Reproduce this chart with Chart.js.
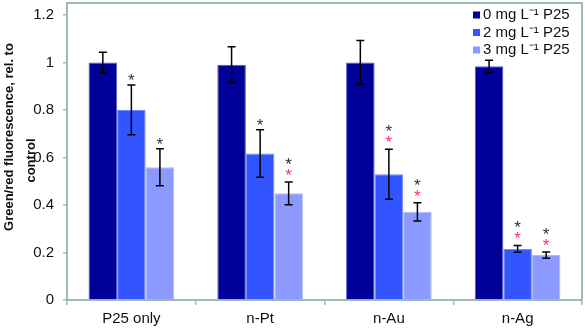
<!DOCTYPE html>
<html>
<head>
<meta charset="utf-8">
<script src="https://cdn.jsdelivr.net/npm/chart.js@4.4.1/dist/chart.umd.min.js"></script>
<style>
  html, body { margin: 0; padding: 0; background: #fff; }
  canvas { display: block; }
</style>
</head>
<body>
<canvas id="chart" width="585" height="328"></canvas>
<script>
// --- DATA ---
const categories = ['P25 only', 'n-Pt', 'n-Au', 'n-Ag'];
const seriesLabels = ['0 mg L\u207B\u00B9 P25', '2 mg L\u207B\u00B9 P25', '3 mg L\u207B\u00B9 P25'];
const dose0 = [1.0, 0.99, 1.0, 0.984];
const dose2 = [0.80, 0.617, 0.529, 0.215];
const dose3 = [0.559, 0.449, 0.371, 0.189];
const err0 = [0.043, 0.076, 0.092, 0.025];
const err2 = [0.105, 0.10, 0.105, 0.014];
const err3 = [0.078, 0.048, 0.038, 0.013];
// significance marks: 0 = none, 1 = black star, 2 = black + red star
const sig0 = [0, 0, 0, 0];
const sig2 = [1, 1, 2, 2];
const sig3 = [1, 2, 2, 2];
const yTicks = [0, 0.2, 0.4, 0.6, 0.8, 1, 1.2];

const axisColor = '#9fb8b8';
const textColor = '#111';

Chart.defaults.font.family = '"Liberation Sans", Arial, sans-serif';

// error bars, stars, frame and legend
const extras = {
    id: 'extras',
    afterDatasetsDraw(chart) {
        const { ctx, scales: { y } } = chart;
        ctx.save();
        chart.data.datasets.forEach((ds, i) => {
            chart.getDatasetMeta(i).data.forEach((bar, j) => {
                const v = ds.data[j];
                const e = ds.errors[j];
                const top = y.getPixelForValue(v + e);
                const bot = y.getPixelForValue(v - e);
                ctx.strokeStyle = '#000';
                ctx.lineWidth = 1.5;
                ctx.beginPath();
                ctx.moveTo(bar.x, top); ctx.lineTo(bar.x, bot);
                ctx.moveTo(bar.x - 4, top); ctx.lineTo(bar.x + 4, top);
                ctx.moveTo(bar.x - 4, bot); ctx.lineTo(bar.x + 4, bot);
                ctx.stroke();

                // stars above the error bar (glyph centre ~0.58em above baseline)
                const s = ds.sig[j];
                if (!s) return;
                ctx.font = '17px "Liberation Sans", Arial, sans-serif';
                ctx.textAlign = 'center';
                ctx.textBaseline = 'alphabetic';
                const lift = 17 * 0.58;
                if (s === 2) {
                    ctx.fillStyle = '#ff3355';
                    ctx.fillText('*', bar.x, top - 11 + lift);
                    ctx.fillStyle = '#333';
                    ctx.fillText('*', bar.x, top - 22 + lift);
                } else {
                    ctx.fillStyle = '#333';
                    ctx.fillText('*', bar.x, top - 9 + lift);
                }
            });
        });
        ctx.restore();
    },
    afterDraw(chart) {
        const { ctx, chartArea: a } = chart;
        ctx.save();
        // top and right frame lines
        ctx.strokeStyle = axisColor;
        ctx.lineWidth = 2;
        ctx.beginPath();
        ctx.moveTo(a.left, a.top); ctx.lineTo(a.right, a.top); ctx.lineTo(a.right, a.bottom);
        ctx.stroke();

        // legend in the top right corner
        ctx.font = '15px "Liberation Sans", Arial, sans-serif';
        ctx.textBaseline = 'middle';
        ctx.textAlign = 'left';
        chart.data.datasets.forEach((ds, i) => {
            const cy = a.top + 12 + i * 17.5;
            ctx.fillStyle = ds.backgroundColor;
            ctx.fillRect(a.right - 109, cy - 3.5, 7, 7);
            ctx.fillStyle = textColor;
            ctx.fillText(ds.label, a.right - 99, cy);
        });
        ctx.restore();
    }
};

new Chart(document.getElementById('chart'), {
    type: 'bar',
    data: {
        labels: categories,
        datasets: [
            { label: seriesLabels[0], data: dose0, errors: err0, sig: sig0,
              backgroundColor: '#000099', borderColor: '#5555cc', borderWidth: 1 },
            { label: seriesLabels[1], data: dose2, errors: err2, sig: sig2,
              backgroundColor: '#3355ff', borderColor: '#6f8cff', borderWidth: 1 },
            { label: seriesLabels[2], data: dose3, errors: err3, sig: sig3,
              backgroundColor: '#8c99ff', borderColor: '#b0baff', borderWidth: 1 }
        ]
    },
    options: {
        responsive: false,
        animation: false,
        categoryPercentage: 0.665,
        barPercentage: 1.0,
        layout: { padding: { top: 3, right: 3, left: 0, bottom: 0 } },
        plugins: {
            legend: { display: false },
            tooltip: { enabled: false }
        },
        scales: {
            x: {
                afterFit: s => { s.height = 28; s.paddingLeft = 0; s.paddingRight = 0; },
                ticks: { font: { size: 15 }, color: textColor, padding: 5 },
                grid: { drawOnChartArea: false, tickLength: 5, color: axisColor, lineWidth: 1.5, offset: true },
                border: { color: axisColor, width: 2 }
            },
            y: {
                min: 0,
                max: 1.25,
                afterBuildTicks: s => { s.ticks = yTicks.map(v => ({ value: v })); },
                afterFit: s => { s.width = 67; s.paddingTop = 0; s.paddingBottom = 0; },
                ticks: { font: { size: 15 }, color: textColor, padding: 9, callback: v => String(v) },
                grid: { drawOnChartArea: false, tickLength: 4, color: axisColor, lineWidth: 1.5 },
                border: { color: axisColor, width: 2 },
                title: {
                    display: true,
                    // padded with spaces so each line sits where it does in the figure
                    text: ['        Green/red fluorescence, rel. to', 'control     '],
                    font: { size: 13, weight: 'bold', lineHeight: 1.7 },
                    color: textColor,
                    padding: { top: -2, bottom: 0 }
                }
            }
        }
    },
    plugins: [extras]
});
</script>
</body>
</html>
